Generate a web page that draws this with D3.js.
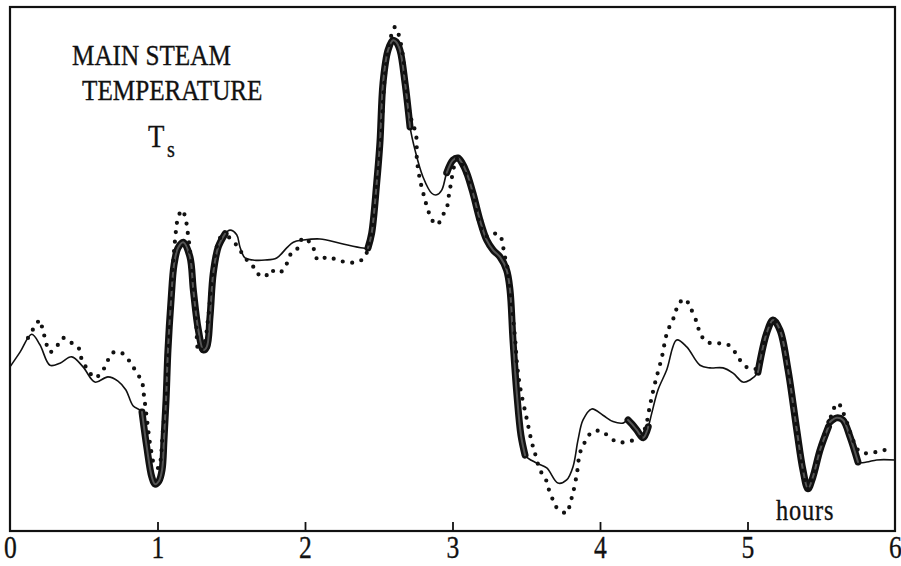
<!DOCTYPE html>
<html lang="en">
<head>
<meta charset="utf-8">
<title>Main steam temperature</title>
<script src="https://cdn.jsdelivr.net/npm/d3@7"></script>
<style>
  body { margin: 0; background: #fff; }
  text { font-family: "Liberation Serif", "DejaVu Serif", serif; fill: #111; stroke: #111; stroke-width: 0.35px; }
</style>
</head>
<body>
<script>

// hours ticks
var hourTicks = [0, 1, 2, 3, 4, 5, 6];

// thin solid line (model response), [hours, relative temperature]
var modelCurve = [
  [0, 31.4], [0.068, 34.2], [0.147, 37.6], [0.203, 35.6], [0.271, 31.7], [0.339, 32.1],
  [0.418, 33.3], [0.495, 31.4], [0.576, 28.5], [0.664, 29.5], [0.732, 28.7], [0.786, 27.0],
  [0.834, 24.0], [0.895, 22.8], [0.927, 16.2], [0.961, 10.5], [0.983, 9.1], [1.010, 9.7],
  [1.031, 11.8], [1.044, 17.5], [1.058, 25.1], [1.071, 34.6], [1.092, 44.1], [1.112, 50.8],
  [1.139, 54.0], [1.175, 55.1], [1.220, 52.3], [1.243, 46.0], [1.277, 38.4], [1.311, 34.6],
  [1.334, 35.2], [1.356, 40.9], [1.378, 49.2], [1.412, 54.2], [1.458, 56.7], [1.492, 57.4],
  [1.537, 56.5], [1.559, 54.2], [1.593, 52.1], [1.647, 51.7], [1.729, 51.7], [1.808, 52.1],
  [1.876, 54.0], [1.921, 55.1], [1.989, 55.5], [2.102, 55.7], [2.237, 54.9], [2.393, 54.0],
  [2.427, 54.0], [2.452, 56.8], [2.486, 66.3], [2.508, 74.0], [2.529, 85.4], [2.563, 91.6],
  [2.597, 93.5], [2.617, 93.2], [2.644, 91.6], [2.678, 85.4], [2.712, 77.0], [2.746, 72.6],
  [2.800, 67.5], [2.859, 64.4], [2.893, 64.1], [2.927, 65.0], [2.961, 68.3], [3.003, 70.7],
  [3.037, 71.1], [3.064, 70.2], [3.096, 68.3], [3.139, 64.4], [3.186, 59.3], [3.232, 55.5],
  [3.275, 53.6], [3.322, 52.3], [3.367, 49.8], [3.390, 46.0], [3.410, 36.5], [3.437, 26.0],
  [3.464, 18.4], [3.492, 14.6], [3.571, 13.1], [3.639, 12.2], [3.715, 9.3], [3.774, 9.9],
  [3.817, 12.4], [3.851, 17.5], [3.885, 21.3], [3.944, 23.4], [4.020, 22.2], [4.088, 21.0],
  [4.156, 20.7], [4.190, 21.3], [4.217, 20.5], [4.249, 19.4], [4.293, 17.9], [4.327, 20.0],
  [4.351, 22.6], [4.393, 27.0], [4.452, 30.8], [4.520, 36.5], [4.588, 35.2], [4.678, 31.7],
  [4.746, 31.2], [4.834, 31.2], [4.902, 30.2], [4.969, 28.5], [5.017, 28.9], [5.071, 30.4],
  [5.130, 37.8], [5.173, 40.3], [5.220, 38.4], [5.275, 30.8], [5.334, 19.4], [5.376, 11.8],
  [5.410, 8.2], [5.444, 10.5], [5.492, 15.6], [5.549, 20.0], [5.559, 20.9], [5.605, 21.7],
  [5.647, 21.3], [5.695, 18.1], [5.749, 13.3], [5.808, 13.3], [5.876, 13.7], [6.0, 13.7]
];

// stretches of the thin line drawn heavy, [from, to] hours
var heavyRanges = [
  [0.895, 1.458], [2.427, 2.712], [2.961, 3.492], [4.190, 4.327], [5.071, 5.549], [5.559, 5.749]
];

// dotted line (measured), [hours, relative temperature]
var measuredCurve = [
  [0.122, 36.9], [0.176, 39.4], [0.203, 40.3], [0.217, 39.0], [0.237, 36.9], [0.271, 34.2],
  [0.325, 35.6], [0.359, 36.9], [0.407, 36.1], [0.461, 35.2], [0.488, 32.7], [0.529, 30.8],
  [0.576, 29.3], [0.631, 30.8], [0.658, 32.3], [0.692, 34.0], [0.746, 34.2], [0.793, 33.1],
  [0.827, 31.7], [0.861, 30.2], [0.895, 28.5], [0.908, 26.0], [0.929, 21.3], [0.956, 15.6],
  [0.983, 12.5], [1.010, 12.2], [1.024, 14.6], [1.037, 19.4], [1.058, 25.1], [1.078, 36.5],
  [1.098, 47.9], [1.119, 55.5], [1.139, 59.7], [1.166, 61.2], [1.186, 60.1], [1.207, 56.5],
  [1.234, 49.8], [1.261, 40.3], [1.281, 34.2], [1.315, 35.6], [1.342, 40.3], [1.369, 47.9],
  [1.397, 53.6], [1.424, 55.9], [1.478, 56.1], [1.525, 54.9], [1.559, 53.6], [1.593, 52.1],
  [1.641, 50.8], [1.675, 49.2], [1.729, 48.5], [1.763, 49.8], [1.817, 49.2], [1.864, 50.2],
  [1.885, 51.7], [1.912, 53.2], [1.953, 54.0], [1.986, 55.9], [2.047, 54.6], [2.068, 53.0],
  [2.088, 51.7], [2.156, 52.3], [2.217, 51.7], [2.285, 51.3], [2.353, 51.3], [2.407, 52.3],
  [2.427, 54.2], [2.454, 57.4], [2.488, 66.9], [2.515, 74.5], [2.536, 85.0], [2.569, 92.6],
  [2.610, 96.0], [2.631, 94.9], [2.658, 91.6], [2.685, 85.0], [2.712, 79.3], [2.753, 75.5],
  [2.759, 70.7], [2.780, 66.9], [2.800, 64.6], [2.814, 63.1], [2.834, 61.2], [2.861, 59.3],
  [2.895, 58.4], [2.936, 60.3], [2.963, 61.8], [2.976, 64.1], [2.990, 66.3], [3.010, 69.4],
  [3.037, 71.1], [3.092, 67.9], [3.139, 64.1], [3.200, 57.4], [3.241, 56.1], [3.302, 56.8],
  [3.336, 55.5], [3.349, 53.0], [3.369, 50.8], [3.397, 44.1], [3.424, 36.9], [3.437, 32.1],
  [3.458, 27.6], [3.505, 21.3], [3.539, 16.9], [3.559, 15.0], [3.593, 11.8], [3.634, 9.9],
  [3.654, 8.0], [3.681, 6.1], [3.708, 4.6], [3.776, 3.6], [3.797, 5.5], [3.817, 7.4],
  [3.844, 11.2], [3.864, 15.0], [3.898, 17.1], [3.946, 19.0], [4.007, 19.2], [4.054, 18.3],
  [4.115, 17.1], [4.176, 17.1], [4.231, 17.5], [4.278, 18.1], [4.312, 20.3], [4.339, 24.1],
  [4.373, 28.3], [4.420, 33.3], [4.454, 37.8], [4.508, 41.3], [4.529, 43.2], [4.576, 44.3],
  [4.610, 42.8], [4.658, 39.7], [4.678, 37.8], [4.725, 36.1], [4.793, 35.9], [4.868, 35.6],
  [4.915, 34.2], [4.949, 32.7], [5.003, 31.2], [5.071, 31.2], [5.125, 37.8], [5.173, 40.3],
  [5.220, 38.4], [5.275, 30.8], [5.336, 19.4], [5.376, 11.8], [5.410, 8.2], [5.444, 10.5],
  [5.492, 15.6], [5.532, 19.4], [5.559, 21.3], [5.580, 23.2], [5.614, 24.5], [5.647, 22.8],
  [5.681, 20.3], [5.715, 17.5], [5.763, 15.2], [5.831, 15.0], [5.898, 15.4], [5.966, 15.8]
];

var width = 901, height = 566;
var box = {left: 10, top: 7, right: 895, bottom: 531};

var svg = d3.select("body").append("svg")
  .attr("width", width)
  .attr("height", height);

var x = d3.scaleLinear().domain([0, 6]).range([box.left, box.right]);
var y = d3.scaleLinear().domain([0, 100]).range([532, 6]);

var line = d3.line()
  .x(function(d) { return x(d[0]); })
  .y(function(d) { return y(d[1]); })
  .curve(d3.curveCatmullRom.alpha(0.5));

// frame
svg.append("rect")
  .attr("x", box.left).attr("y", box.top)
  .attr("width", box.right - box.left).attr("height", box.bottom - box.top)
  .attr("fill", "none").attr("stroke", "#111").attr("stroke-width", 2.2);

// x axis, ticks pointing up into the box
var xAxis = d3.axisBottom(x)
  .tickValues(hourTicks)
  .tickSizeInner(-9)
  .tickSizeOuter(0)
  .tickPadding(4)
  .tickFormat(d3.format("d"));

var gx = svg.append("g")
  .attr("transform", "translate(0," + box.bottom + ")")
  .call(xAxis);
gx.select(".domain").remove();
gx.selectAll(".tick line").attr("stroke", "#111").attr("stroke-width", 1.8)
  .filter(function(d) { return d === 0 || d === 6; }).remove();
gx.selectAll(".tick text")
  .attr("font-family", "Liberation Serif, serif")
  .attr("font-size", 32)
  .attr("fill", "#111")
  .attr("transform", "scale(0.8,1)");

// thin model line
svg.append("path")
  .datum(modelCurve)
  .attr("d", line)
  .attr("fill", "none")
  .attr("stroke", "#111")
  .attr("stroke-width", 1.6);

// heavy stretches: dark outline with grey core
heavyRanges.forEach(function(r) {
  var seg = modelCurve.filter(function(d) { return d[0] >= r[0] - 1e-6 && d[0] <= r[1] + 1e-6; });
  svg.append("path").datum(seg).attr("d", line)
    .attr("fill", "none").attr("stroke", "#111")
    .attr("stroke-width", 7).attr("stroke-linecap", "round").attr("stroke-linejoin", "round");
  svg.append("path").datum(seg).attr("d", line)
    .attr("fill", "none").attr("stroke", "#555")
    .attr("stroke-width", 2).attr("stroke-linecap", "round").attr("stroke-linejoin", "round");
});

// dotted measured line
svg.append("path")
  .datum(measuredCurve)
  .attr("d", line)
  .attr("fill", "none")
  .attr("stroke", "#111")
  .attr("stroke-width", 4.2)
  .attr("stroke-linecap", "round")
  .attr("stroke-dasharray", "0,9.5");

// labels
function label(txt, tx, ty, size) {
  return svg.append("text")
    .attr("transform", "translate(" + tx + "," + ty + ") scale(0.84,1)")
    .attr("font-size", size)
    .text(txt);
}
label("MAIN STEAM", 72, 65, 30);
label("TEMPERATURE", 82, 100, 30);
label("T", 148, 147, 32);
label("s", 167, 157, 24);
label("hours", 776, 520, 29).attr("letter-spacing", 1);

</script>
</body>
</html>
